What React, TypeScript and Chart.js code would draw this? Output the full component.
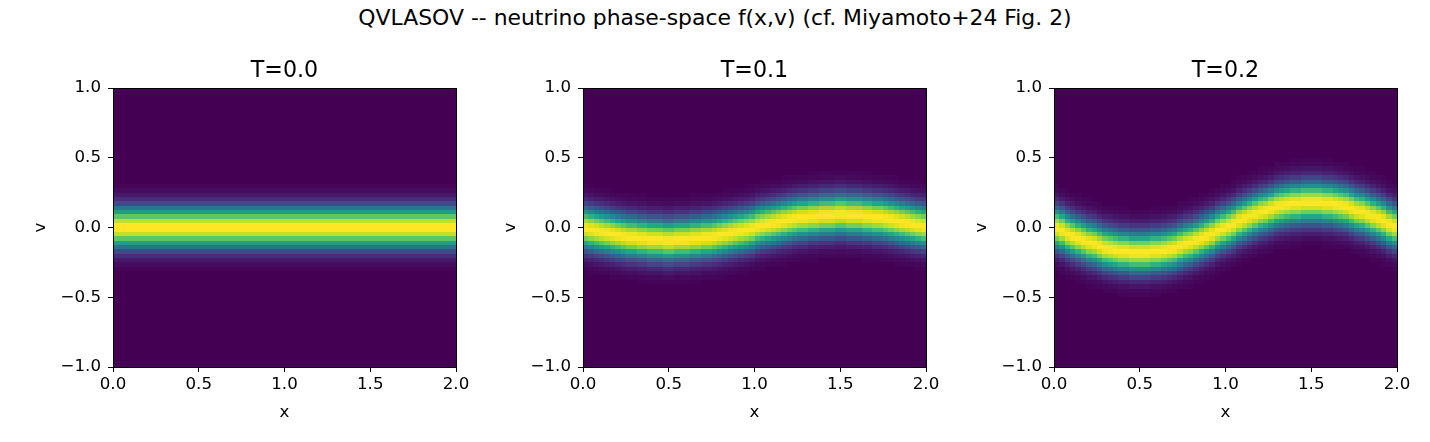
import React, { useEffect, useRef } from "react";
import { Chart, registerables } from "chart.js";

Chart.register(...registerables);

const FONT_FAMILY = "'DejaVu Sans', 'Liberation Sans', sans-serif";

const figureTitle = "QVLASOV -- neutrino phase-space f(x,v) (cf. Miyamoto+24 Fig. 2)";
const panelTitles = ["T=0.0", "T=0.1", "T=0.2"];
const xAxisLabel = "x";
const vAxisLabel = "v";
const xTicks = [0, 0.5, 1, 1.5, 2];
const vTicks = [-1, -0.5, 0, 0.5, 1];
const xRange = [0, 2];
const vRange = [-1, 1];
const xCells = 64;
const vCells = 64;

// f(x,v) across the band, by distance |v - centre| in steps of 1/128
const profileStep = 1 / 128;
const bandProfile = [
  1.0, 0.997, 0.988, 0.973, 0.952, 0.927, 0.896, 0.861, 0.823, 0.781,
  0.737, 0.691, 0.644, 0.597, 0.55, 0.503, 0.458, 0.414, 0.372, 0.332,
  0.295, 0.26, 0.228, 0.199, 0.172, 0.148, 0.127, 0.108, 0.091, 0.077,
  0.064, 0.053, 0.044, 0.036, 0.029, 0.024, 0.019, 0.015, 0.012, 0.01,
  0.008,
];

// v of the band centre in each of the 64 x columns
const bandCentreT00 = [
  0, 0, 0, 0, 0, 0, 0, 0, 0, 0, 0, 0, 0, 0, 0, 0,
  0, 0, 0, 0, 0, 0, 0, 0, 0, 0, 0, 0, 0, 0, 0, 0,
  0, 0, 0, 0, 0, 0, 0, 0, 0, 0, 0, 0, 0, 0, 0, 0,
  0, 0, 0, 0, 0, 0, 0, 0, 0, 0, 0, 0, 0, 0, 0, 0,
];
const bandCentreT01 = [
  -0.004, -0.013, -0.022, -0.03, -0.038, -0.046, -0.054, -0.06,
  -0.067, -0.072, -0.077, -0.081, -0.085, -0.087, -0.089, -0.09,
  -0.09, -0.089, -0.087, -0.085, -0.081, -0.077, -0.072, -0.067,
  -0.06, -0.054, -0.046, -0.038, -0.03, -0.022, -0.013, -0.004,
  0.004, 0.013, 0.022, 0.03, 0.038, 0.046, 0.054, 0.06,
  0.067, 0.072, 0.077, 0.081, 0.085, 0.087, 0.089, 0.09,
  0.09, 0.089, 0.087, 0.085, 0.081, 0.077, 0.072, 0.067,
  0.06, 0.054, 0.046, 0.038, 0.03, 0.022, 0.013, 0.004,
];
const bandCentreT02 = [
  -0.009, -0.026, -0.044, -0.061, -0.077, -0.093, -0.107, -0.121,
  -0.133, -0.145, -0.154, -0.163, -0.169, -0.175, -0.178, -0.18,
  -0.18, -0.178, -0.175, -0.169, -0.163, -0.154, -0.145, -0.133,
  -0.121, -0.107, -0.093, -0.077, -0.061, -0.044, -0.026, -0.009,
  0.009, 0.026, 0.044, 0.061, 0.077, 0.093, 0.107, 0.121,
  0.133, 0.145, 0.154, 0.163, 0.169, 0.175, 0.178, 0.18,
  0.18, 0.178, 0.175, 0.169, 0.163, 0.154, 0.145, 0.133,
  0.121, 0.107, 0.093, 0.077, 0.061, 0.044, 0.026, 0.009,
];
const bandCentres = [bandCentreT00, bandCentreT01, bandCentreT02];

// viridis colour map, 16 evenly spaced stops
const viridis = [
  "#440154", "#481a6c", "#472f7d", "#414487", "#39568c", "#31688e",
  "#2a788e", "#23888e", "#1f988b", "#22a884", "#35b779", "#54c568",
  "#7ad151", "#a5db36", "#d2e21b", "#fde725",
];

// layout of the figure (pixels)
const FIG_W = 1430;
const FIG_H = 442;
const plotLefts = [113, 583, 1054];
const PLOT_W = 343;
const AXIS_W = 90; // room left of each plot for v ticks and label
const RIGHT_PAD = 30;
const CANVAS_W = AXIS_W + PLOT_W + RIGHT_PAD;
const X_AXIS_H = 75;
const TICK_SIZE = 16.67;
const TITLE_SIZE = 22.2;
const SUPTITLE_SIZE = 21.9;

const hexToRgb = (h: string) => [
  parseInt(h.slice(1, 3), 16),
  parseInt(h.slice(3, 5), 16),
  parseInt(h.slice(5, 7), 16),
];
const viridisRgb = viridis.map(hexToRgb);

function colourFor(t: number) {
  const c = Math.min(1, Math.max(0, t)) * (viridisRgb.length - 1);
  const i = Math.min(viridisRgb.length - 2, Math.floor(c));
  const u = c - i;
  const a = viridisRgb[i];
  const b = viridisRgb[i + 1];
  const r = Math.round(a[0] + (b[0] - a[0]) * u);
  const g = Math.round(a[1] + (b[1] - a[1]) * u);
  const bl = Math.round(a[2] + (b[2] - a[2]) * u);
  return `rgb(${r},${g},${bl})`;
}

type Cell = { x: number; y: number; f: number; colour?: string };

function buildCells(centres: number[]): Cell[] {
  const dx = (xRange[1] - xRange[0]) / xCells;
  const dv = (vRange[1] - vRange[0]) / vCells;
  const cells: Cell[] = [];
  for (let i = 0; i < xCells; i++) {
    const xc = xRange[0] + (i + 0.5) * dx;
    for (let j = 0; j < vCells; j++) {
      const vc = vRange[0] + (j + 0.5) * dv;
      const k = Math.round(Math.abs(vc - centres[i]) / profileStep);
      const f = k < bandProfile.length ? bandProfile[k] : 0;
      cells.push({ x: xc, y: vc, f });
    }
  }
  // colour scale runs from the panel's own minimum to maximum
  let lo = Infinity;
  let hi = -Infinity;
  for (const c of cells) {
    lo = Math.min(lo, c.f);
    hi = Math.max(hi, c.f);
  }
  for (const c of cells) c.colour = colourFor((c.f - lo) / (hi - lo || 1));
  return cells;
}

const tickText = (value: number) => {
  const s = Math.abs(value).toFixed(1);
  return value < 0 ? "\u2212" + s : s;
};

const alignPx = (p: number) => Math.round(p - 0.5) + 0.5;

// paints each grid cell as a rectangle placed with the chart's own scales
const phaseSpacePlugin = {
  id: "phaseSpaceCells",
  beforeDatasetsDraw(chart: any) {
    const { ctx, chartArea, scales } = chart;
    const xs = scales.x;
    const ys = scales.y;
    const dx = (xRange[1] - xRange[0]) / xCells;
    const dv = (vRange[1] - vRange[0]) / vCells;
    const data: Cell[] = chart.data.datasets[0].data;
    ctx.save();
    ctx.beginPath();
    ctx.rect(chartArea.left, chartArea.top, chartArea.right - chartArea.left, chartArea.bottom - chartArea.top);
    ctx.clip();
    for (const c of data) {
      const x0 = Math.round(xs.getPixelForValue(c.x - dx / 2));
      const x1 = Math.round(xs.getPixelForValue(c.x + dx / 2));
      const y0 = Math.round(ys.getPixelForValue(c.y - dv / 2));
      const y1 = Math.round(ys.getPixelForValue(c.y + dv / 2));
      ctx.fillStyle = c.colour;
      ctx.fillRect(x0, y1, x1 - x0, y0 - y1);
    }
    ctx.restore();
  },
  afterDatasetsDraw(chart: any) {
    const { ctx, chartArea } = chart;
    const l = alignPx(chartArea.left);
    const r = alignPx(chartArea.right);
    const t = alignPx(chartArea.top);
    const b = alignPx(chartArea.bottom);
    ctx.save();
    ctx.strokeStyle = "#000";
    ctx.lineWidth = 1;
    ctx.strokeRect(l, t, r - l, b - t);
    ctx.restore();
  },
};

function panelConfig(index: number): any {
  const tickFont = { family: FONT_FAMILY, size: TICK_SIZE };
  return {
    type: "scatter",
    data: {
      datasets: [
        {
          data: buildCells(bandCentres[index]),
          pointRadius: 0,
          pointHoverRadius: 0,
          showLine: false,
        },
      ],
    },
    plugins: [phaseSpacePlugin],
    options: {
      animation: false,
      responsive: false,
      maintainAspectRatio: false,
      events: [],
      layout: { padding: { top: 40, right: RIGHT_PAD, left: 0, bottom: 0 } },
      plugins: {
        legend: { display: false },
        tooltip: { enabled: false },
        title: {
          display: true,
          text: panelTitles[index],
          color: "#000",
          fullSize: false,
          font: { family: FONT_FAMILY, size: TITLE_SIZE, weight: "normal" },
          padding: { top: 18, bottom: 3.36 },
        },
      },
      scales: {
        x: {
          type: "linear",
          min: xRange[0],
          max: xRange[1],
          afterBuildTicks: (s: any) => {
            s.ticks = xTicks.map((value) => ({ value }));
          },
          afterFit: (s: any) => {
            s.height = X_AXIS_H;
          },
          ticks: {
            color: "#000",
            font: tickFont,
            padding: 3,
            maxRotation: 0,
            autoSkip: false,
            callback: (v: number) => tickText(v),
          },
          grid: {
            display: true,
            drawOnChartArea: false,
            drawTicks: true,
            tickLength: 5,
            tickColor: "#000",
            tickWidth: 1,
          },
          border: { display: true, color: "#000", width: 1 },
          title: {
            display: true,
            text: xAxisLabel,
            color: "#000",
            font: tickFont,
            padding: { top: 0, bottom: 19 },
          },
        },
        y: {
          type: "linear",
          min: vRange[0],
          max: vRange[1],
          afterBuildTicks: (s: any) => {
            s.ticks = vTicks.map((value) => ({ value }));
          },
          afterFit: (s: any) => {
            s.width = AXIS_W;
          },
          ticks: {
            color: "#000",
            font: tickFont,
            padding: 7,
            autoSkip: false,
            callback: (v: number) => tickText(v),
          },
          grid: {
            display: true,
            drawOnChartArea: false,
            drawTicks: true,
            tickLength: 5,
            tickColor: "#000",
            tickWidth: 1,
          },
          border: { display: true, color: "#000", width: 1 },
          title: {
            display: true,
            text: vAxisLabel,
            color: "#000",
            font: tickFont,
            padding: { top: 8, bottom: 0 },
          },
        },
      },
    },
  };
}

function Panel({ index }: { index: number }) {
  const ref = useRef<HTMLCanvasElement>(null);
  useEffect(() => {
    const chart = new Chart(ref.current as HTMLCanvasElement, panelConfig(index));
    return () => chart.destroy();
  }, [index]);
  return (
    <canvas
      ref={ref}
      width={CANVAS_W}
      height={FIG_H}
      style={{
        position: "absolute",
        left: plotLefts[index] - AXIS_W,
        top: 0,
        width: CANVAS_W,
        height: FIG_H,
      }}
    />
  );
}

export default function App() {
  useEffect(() => {
    document.body.style.margin = "0";
  }, []);
  return (
    <div
      style={{
        position: "relative",
        width: FIG_W,
        height: FIG_H,
        background: "#fff",
        overflow: "hidden",
      }}
    >
      <div
        style={{
          position: "absolute",
          left: 0,
          top: 5,
          width: FIG_W,
          textAlign: "center",
          fontFamily: FONT_FAMILY,
          fontSize: `${SUPTITLE_SIZE}px`,
          lineHeight: "26px",
          color: "#000",
          whiteSpace: "nowrap",
        }}
      >
        {figureTitle}
      </div>
      {panelTitles.map((_, i) => (
        <Panel key={i} index={i} />
      ))}
    </div>
  );
}
